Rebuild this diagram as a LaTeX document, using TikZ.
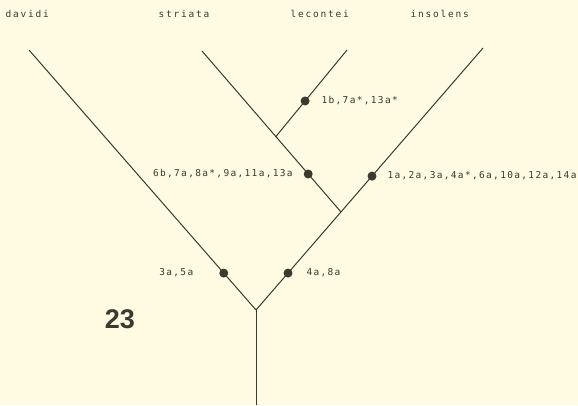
\documentclass[tikz,border=0pt]{standalone}
\usepackage{fontspec}
\setsansfont{Liberation Sans}
\newfontfamily\taxfont[LetterSpace=19]{DejaVu Sans Mono}
\newfontfamily\chrfont[LetterSpace=14]{DejaVu Sans Mono}
\usetikzlibrary{positioning}
\definecolor{paper}{RGB}{255,251,226}
\definecolor{ink}{RGB}{62,56,46}
\tikzset{
  taxon/.style={font=\taxfont\fontsize{9.5}{10}\selectfont,text=ink,inner sep=0pt,anchor=west},
  chars/.style={font=\chrfont\fontsize{9.5}{10}\selectfont,text=ink,inner sep=0pt},
  apo/.style={circle,fill=ink,inner sep=0pt,minimum size=9pt},
}
\begin{document}
\begin{tikzpicture}[x=1pt,y=-1pt,line width=1pt,draw=ink]
  % paper
  \fill[paper] (0,0) rectangle (578,405);
  \useasboundingbox (0,0) rectangle (578,405);

  % junctions
  \coordinate (root) at (256,405);
  \coordinate (base) at (256,310);
  \coordinate (jI) at (341,212);
  \coordinate (jL) at (275.5,137);
  % tips
  \coordinate (tD) at (29,50);
  \coordinate (tS) at (202,51);
  \coordinate (tL) at (347,50);
  \coordinate (tI) at (483,48);

  % taxa
  \node[taxon] (davidi) at (5,14) {davidi};
  \node[taxon] (striata) at (158,14) {striata};
  \node[taxon] (lecontei) at (290,14) {lecontei};
  \node[taxon] (insolens) at (410,14) {insolens};

  % branches
  \draw (root) -- (base);
  \draw (base) -- node[apo,pos=.142] (dD) {} (tD);
  \draw (base) -- node[apo,pos=.141] (dR) {} (tI);
  \draw (jI) -- node[apo,pos=.236] (dS) {} (tS);
  \draw (jL) -- node[apo,pos=.414] (dL) {} (tL);
  \path (base) -- node[apo,pos=.511] (dI) {} (tI);

  % character states
  \node[chars,left=25pt of dD] (cD) {3a,5a};
  \node[chars,right=13pt of dR] (cR) {4a,8a};
  \node[chars,left=10pt of dS] (cS) {6b,7a,8a*,9a,11a,13a};
  \node[chars,right=10pt of dI] (cI) {1a,2a,3a,4a*,6a,10a,12a,14a};
  \node[chars,right=11pt of dL] (cL) {1b,7a*,13a*};

  % figure number
  \node[font=\sffamily\bfseries\fontsize{27}{30}\selectfont,text=ink] (fig) at (120,319) {23};
\end{tikzpicture}
\end{document}
